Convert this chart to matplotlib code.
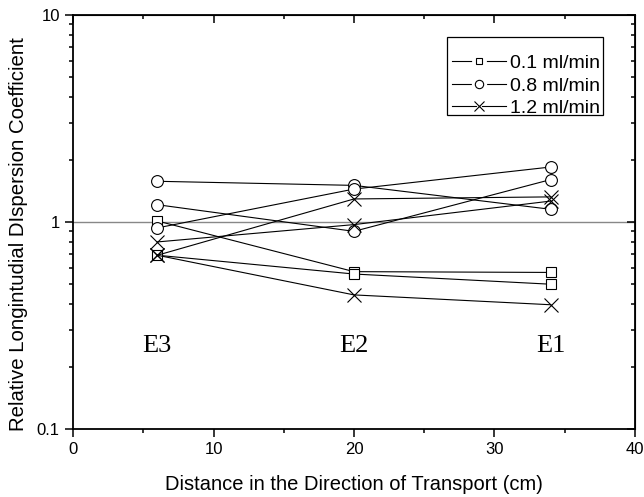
import matplotlib
matplotlib.use("Agg")
import matplotlib.pyplot as plt
from matplotlib.ticker import FixedLocator, NullFormatter, LogLocator
from matplotlib.lines import Line2D
from matplotlib.patches import Rectangle
from matplotlib.legend_handler import HandlerTuple

plt.rcParams['font.family'] = ['Liberation Sans', 'DejaVu Sans']

x_pos = [6, 20, 34]
# 0.1 ml/min (squares)
sq_a = [1.01, 0.575, 0.57]
sq_b = [0.69, 0.56, 0.50]
# 0.8 ml/min (circles)
ci_a = [1.57, 1.50, 1.15]
ci_b = [1.21, 0.90, 1.60]
ci_c = [0.935, 1.44, 1.84]
# 1.2 ml/min (crosses)
cr_a = [0.80, 0.97, 1.26]
cr_b = [0.69, 1.29, 1.32]
cr_c = [0.69, 0.444, 0.398]

well_labels = ["E3", "E2", "E1"]
legend_labels = ["0.1 ml/min", "0.8 ml/min", "1.2 ml/min"]

fig = plt.figure(figsize=(6.44, 4.97), dpi=100)
ax = fig.add_axes([0.1134, 0.1368, 0.8726, 0.8336])

style = dict(color='black', lw=0.8, mfc='white', mec='black', mew=0.8)
for s in (sq_a, sq_b):
    ax.plot(x_pos, s, marker='s', ms=7.2, **style)
for s in (ci_a, ci_b, ci_c):
    ax.plot(x_pos, s, marker='o', ms=8.5, **style)
for s in (cr_a, cr_b, cr_c):
    ax.plot(x_pos, s, marker='x', ms=9.5, **style)

ax.axhline(1.0, color='#888888', lw=1.0, zorder=0)

ax.set_yscale('log')
ax.set_xlim(0, 40)
ax.set_ylim(0.1, 10)

for xp, lab in zip(x_pos, well_labels):
    ax.text(xp, 0.251, lab, ha='center', va='center', fontsize=19,
            family=['Liberation Serif', 'DejaVu Serif'])

ax.set_xticks([0, 10, 20, 30, 40])
ax.xaxis.set_minor_locator(FixedLocator([5, 15, 25, 35]))
ax.set_yticks([0.1, 1, 10])
ax.set_yticklabels(['0.1', '1', '10'])
ax.yaxis.set_minor_locator(LogLocator(base=10, subs=range(2, 10)))
ax.yaxis.set_minor_formatter(NullFormatter())

ax.tick_params(axis='both', which='major', labelsize=12, direction='out', length=6, width=1.1)
ax.tick_params(axis='both', which='minor', direction='out', length=3.2, width=1.1)
for sp in ax.spines.values():
    sp.set_linewidth(1.3)

# inward ticks on top and right
ax_top = ax.secondary_xaxis('top')
ax_top.set_xticks([0, 10, 20, 30, 40])
ax_top.xaxis.set_minor_locator(FixedLocator([5, 15, 25, 35]))
ax_top.tick_params(which='major', direction='in', length=6, width=1.1, labeltop=False)
ax_top.tick_params(which='minor', direction='in', length=3.2, width=1.1)
ax_top.set_xticklabels([])
ax_right = ax.secondary_yaxis('right')
ax_right.set_yticks([0.1, 1, 10])
ax_right.yaxis.set_minor_locator(LogLocator(base=10, subs=range(2, 10)))
ax_right.yaxis.set_minor_formatter(NullFormatter())
ax_right.tick_params(which='major', direction='in', length=6, width=1.1)
ax_right.tick_params(which='minor', direction='in', length=3.2, width=1.1)
ax_right.set_yticklabels([])

ax.set_xlabel("Distance in the Direction of Transport (cm)", fontsize=14.5, labelpad=13)
ax.set_ylabel("Relative Longintudial DIspersion Coefficient", fontsize=14.7, labelpad=6.5)
ax.yaxis.label.set_y(0.471)

def legend_handle(marker, ms):
    line = Line2D([], [], color='black', lw=0.8)
    halo = Line2D([], [], ls='none', marker=marker, ms=ms + 3, mfc='white',
                  mec='white', mew=2.0)
    mk = Line2D([], [], ls='none', marker=marker, ms=ms, mfc='white',
                mec='black', mew=0.8)
    return (line, halo, mk)

handles = [legend_handle('s', 5.0), legend_handle('o', 6.0), legend_handle('x', 6.5)]
leg = ax.legend(handles, legend_labels, loc='upper right', bbox_to_anchor=(0.938, 0.904),
                fontsize=14, frameon=False,
                handler_map={tuple: HandlerTuple(ndivide=1, pad=0)},
                handlelength=2.8, handletextpad=0.2, borderpad=0.0, labelspacing=0.25,
                borderaxespad=0)

# legend frame (pixel box of the reference legend)
W, H = 644, 497
fig.patches.append(Rectangle((447 / W, 1 - 115 / H), 156 / W, 78 / H,
                             transform=fig.transFigure, fill=False,
                             edgecolor='black', lw=0.9, zorder=5))

fig.savefig('out.png', dpi=100)
